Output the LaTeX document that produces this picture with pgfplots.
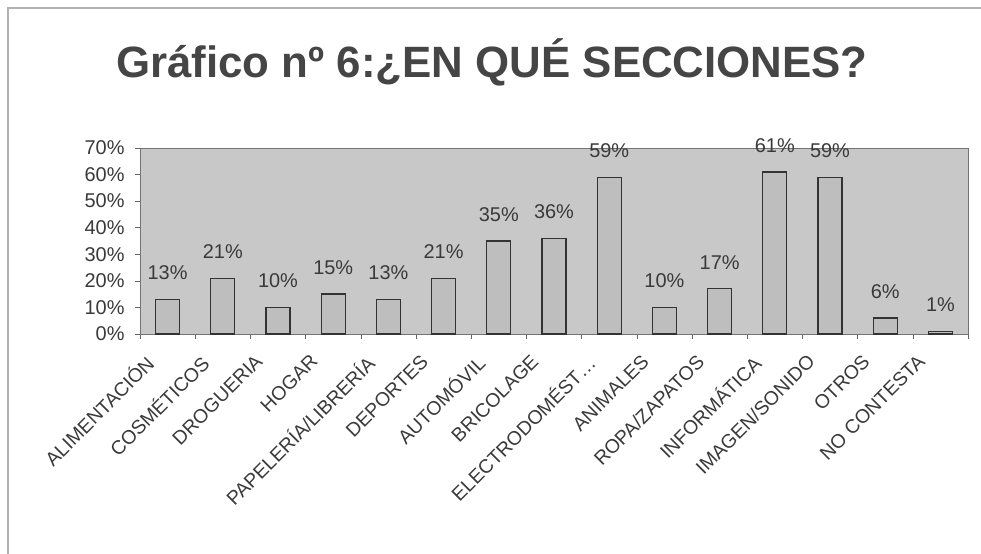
\documentclass[border=0pt]{standalone}
\usepackage{pgfplots}
\pgfplotsset{compat=1.18}
\usepackage{fontspec}
\setmainfont{Liberation Sans}
\definecolor{txt}{HTML}{3A3A3A}
\definecolor{ttl}{HTML}{454545}
\definecolor{bg}{HTML}{C8C8C8}
\definecolor{barf}{HTML}{BEBEBE}
\begin{document}
\begin{tikzpicture}[x=1bp,y=1bp]
\useasboundingbox (0,0) rectangle (981,554);
\draw[gray!60, line width=1.5bp] (8,0) -- (8,546) -- (981,546);
\node[font=\fontsize{44}{48}\selectfont\bfseries, text=ttl] at (492,492) {Gráfico nº 6:¿EN QUÉ SECCIONES?};
\begin{axis}[
  at={(140bp,220bp)}, anchor=south west,
  scale only axis, width=828bp, height=186bp,
  xmin=-0.5, xmax=14.5, ymin=0, ymax=70,
  /pgf/number format/assume math mode=true,
  axis background/.style={fill=bg},
  axis line style={draw=black!55, line width=0.8bp},
  ytick={0,10,...,70},
  yticklabels={0\%,10\%,20\%,30\%,40\%,50\%,60\%,70\%},
  xtick={0,...,14},
  xticklabels={ALIMENTACIÓN,COSMÉTICOS,DROGUERIA,HOGAR,PAPELERÍA/LIBRERÍA,DEPORTES,AUTOMÓVIL,BRICOLAGE,{ELECTRODOMÉST\ldots},ANIMALES,ROPA/ZAPATOS,INFORMÁTICA,IMAGEN/SONIDO,OTROS,NO CONTESTA},
  minor xtick={-0.5,0.5,...,14.5},
  x tick style={draw=none},
  minor x tick style={draw=black!60, line width=0.6bp},
  minor tick length=5bp,
  major tick length=5bp,
  y tick style={draw=black!60, line width=0.6bp},
  tick align=outside,
  ytick pos=left,
  xtick pos=bottom,
  y tick label style={font=\fontsize{20}{21}\selectfont, text=txt, xshift=-7bp},
  x tick label style={xshift=-24bp, yshift=-14bp, rotate=45, anchor=north east, inner sep=0pt, font=\fontsize{19.5}{20}\selectfont, text=txt},
  clip=false,
  nodes near coords={\pgfmathprintnumber{\pgfplotspointmeta}\%},
  nodes near coords style={font=\fontsize{20}{21}\selectfont, text=txt, inner sep=0pt, anchor=south, yshift=19bp},
]
\addplot[ybar, bar width=24bp, fill=barf, draw=black!80, line width=1.3bp] coordinates {
(0,13) (1,21) (2,10) (3,15) (4,13) (5,21) (6,35) (7,36) (8,59) (9,10) (10,17) (11,61) (12,59) (13,6) (14,1)
};
\end{axis}
\end{tikzpicture}
\end{document}
